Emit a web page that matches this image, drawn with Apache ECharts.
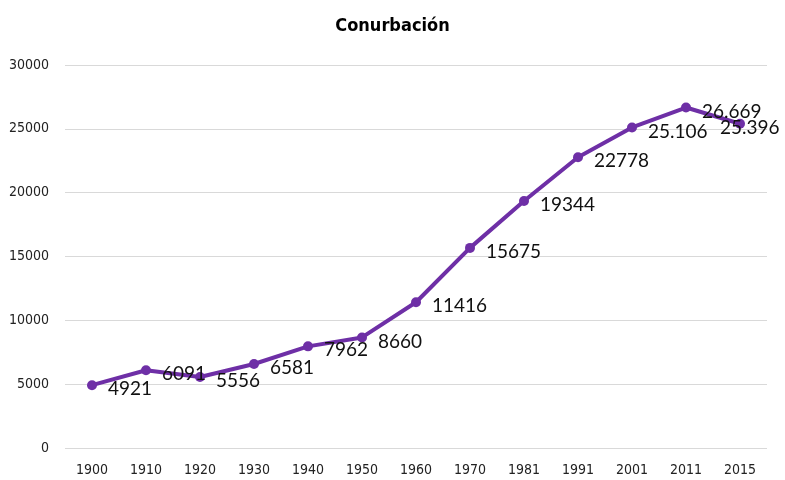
<!DOCTYPE html>
<html>
<head>
<meta charset="utf-8">
<script src="https://cdn.jsdelivr.net/npm/echarts@6/dist/echarts.min.js"></script>
<style>
  html, body { margin: 0; padding: 0; background: #fff; }
  #main { width: 785px; height: 480px; }
</style>
</head>
<body>
<div id="main"></div>
<script>
// datos
var years = ['1900', '1910', '1920', '1930', '1940', '1950', '1960', '1970', '1981', '1991', '2001', '2011', '2015'];
var population = [4921, 6091, 5556, 6581, 7962, 8660, 11416, 15675, 19344, 22778, 25106, 26669, 25396];
var pointLabels = ['4921', '6091', '5556', '6581', '7962', '8660', '11416', '15675', '19344', '22778', '25.106', '26.669', '25.396'];

var narrow = '"DejaVu Sans Condensed", "Liberation Sans", sans-serif';

var myChart = echarts.init(document.getElementById('main'));

var seriesData = population.map(function (v, i) {
    var item = { value: v, label: { formatter: pointLabels[i] } };
    // la ultima etiqueta se corre a la izquierda para que quepa
    if (i === population.length - 1) {
        item.label.offset = [-36, 4];
    }
    return item;
});

myChart.setOption({
    animation: false,
    title: {
        text: 'Conurbación',
        left: 'center',
        top: 12,
        textStyle: {
            fontFamily: narrow,
            fontWeight: 'bold',
            fontSize: 18,
            color: '#000'
        }
    },
    grid: { left: 65, right: 18, top: 65, bottom: 32 },
    xAxis: {
        type: 'category',
        data: years,
        boundaryGap: true,
        axisLine: { show: false },
        axisTick: { show: false },
        axisLabel: {
            margin: 15,
            fontFamily: narrow,
            fontSize: 14,
            color: '#222'
        }
    },
    yAxis: {
        type: 'value',
        min: 0,
        max: 30000,
        interval: 5000,
        axisLine: { show: false },
        axisTick: { show: false },
        splitLine: { lineStyle: { color: '#d9d9d9', width: 1 } },
        axisLabel: {
            margin: 16,
            formatter: function (v) { return String(v); },
            fontFamily: narrow,
            fontSize: 14,
            color: '#222'
        }
    },
    series: [{
        name: 'Conurbación',
        type: 'line',
        data: seriesData,
        symbol: 'circle',
        symbolSize: 10,
        lineStyle: { color: '#6E2FA6', width: 4 },
        itemStyle: { color: '#6E2FA6' },
        label: {
            show: true,
            position: 'right',
            distance: 11,
            offset: [0, 4],
            fontFamily: 'Lato',
            fontSize: 19,
            color: '#111'
        }
    }]
});
</script>
</body>
</html>
